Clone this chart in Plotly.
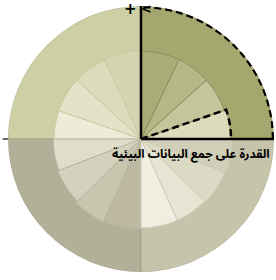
import numpy as np
import plotly.graph_objects as go

# ---- data ----
quadrants = ["TR", "TL", "BL", "BR"]
ring_colors = ["#a4a86e", "#cdd0a5", "#b3b099", "#c6c4ab"]
ring_r = 133
inner_bounds = [
    [0, 19, 42, 64.5, 90],
    [90, 114.7, 137.5, 161, 180],
    [180, 201, 224.4, 245.6, 270],
    [270, 294.1, 315.6, 338, 360],
]
inner_r = [
    [90, 88, 88, 88],
    [88, 87, 87, 87],
    [88, 89, 91, 90],
    [89, 89, 90, 91],
]
inner_colors = [
    ["#dcdcbd", "#c3c59a", "#b4b787", "#a9ac77"],
    ["#d4d6b2", "#dcdcbd", "#e3e3c7", "#edecd6"],
    ["#dfdecb", "#d4d2bd", "#c9c6af", "#bdb9a2"],
    ["#efeee1", "#e6e5d3", "#dbdac5", "#d0cfb8"],
]
sep_colors = ["#8c8f5c", "#c9cba5", "#b9b6a0", "#cfcdb8"]
label = "القدرة على جمع البيانات البيئية"

fig = go.Figure()

# outer rings (full wedges, inner parts covered later)
fig.add_trace(go.Barpolar(
    r=[ring_r] * 4, theta=[45, 135, 225, 315], width=[90] * 4,
    marker=dict(color=ring_colors, line=dict(width=0.6, color="#9a9a80")),
    hoverinfo="skip", showlegend=False))

for q in range(4):
    b = inner_bounds[q]
    th = [(b[i] + b[i + 1]) / 2 for i in range(4)]
    wd = [b[i + 1] - b[i] for i in range(4)]
    fig.add_trace(go.Barpolar(
        r=inner_r[q], theta=th, width=wd,
        marker=dict(color=inner_colors[q], line=dict(width=1, color=sep_colors[q])),
        hoverinfo="skip", showlegend=False))

line_style = dict(color="black", width=2.5)
# solid axis lines
fig.add_trace(go.Scatterpolar(r=[0, 135], theta=[90, 90], mode="lines",
                              line=line_style, hoverinfo="skip", showlegend=False, cliponaxis=False))
fig.add_trace(go.Scatterpolar(r=[0, 133], theta=[0, 0], mode="lines",
                              line=line_style, hoverinfo="skip", showlegend=False, cliponaxis=False))
# dashed outer arc on TR
arc_t = np.linspace(0, 90, 91)
fig.add_trace(go.Scatterpolar(r=[132] * len(arc_t), theta=arc_t, mode="lines",
                              line=dict(color="black", width=2.5, dash="7px,4px"),
                              hoverinfo="skip", showlegend=False, cliponaxis=False))
# dashed boundary of first wedge
wt = np.linspace(19, 0, 20)
fig.add_trace(go.Scatterpolar(r=[0] + [90] * len(wt), theta=[19] + list(wt), mode="lines",
                              line=dict(color="black", width=2.5, dash="7px,4px"),
                              hoverinfo="skip", showlegend=False, cliponaxis=False))

fig.update_layout(
    width=276, height=280,
    margin=dict(l=8, r=2, t=6, b=8),
    paper_bgcolor="white",
    bargap=0,
    polar=dict(
        domain=dict(x=[0, 1], y=[0, 1]),
        bgcolor="white",
        radialaxis=dict(visible=False, range=[0, ring_r]),
        angularaxis=dict(visible=False, rotation=0, direction="counterclockwise"),
        barmode="overlay",
    ),
    annotations=[
        dict(text="<b>" + label + "</b>", x=0.994, y=0.44, xref="paper", yref="paper",
             xanchor="right", yanchor="middle", showarrow=False,
             font=dict(family="Noto Sans Arabic, DejaVu Sans Condensed, DejaVu Sans",
                       size=12, color="black")),
        dict(text="<b>+</b>", x=0.462, y=0.988, xref="paper", yref="paper",
             xanchor="center", yanchor="middle", showarrow=False,
             font=dict(family="DejaVu Sans", size=15, color="black")),
        dict(text="<b>&lt;</b>", x=0.522, y=0.99, xref="paper", yref="paper",
             xanchor="center", yanchor="middle", showarrow=False,
             font=dict(family="DejaVu Sans", size=13, color="black")),
    ],
    shapes=[
        dict(type="line", xref="paper", yref="paper", x0=-0.02, x1=0.0, y0=0.5, y1=0.5,
             line=dict(color="#333333", width=1.5)),
    ],
)

fig.write_html("out.html", config={"displayModeBar": False},
               post_script="document.body.style.margin='0px';")
